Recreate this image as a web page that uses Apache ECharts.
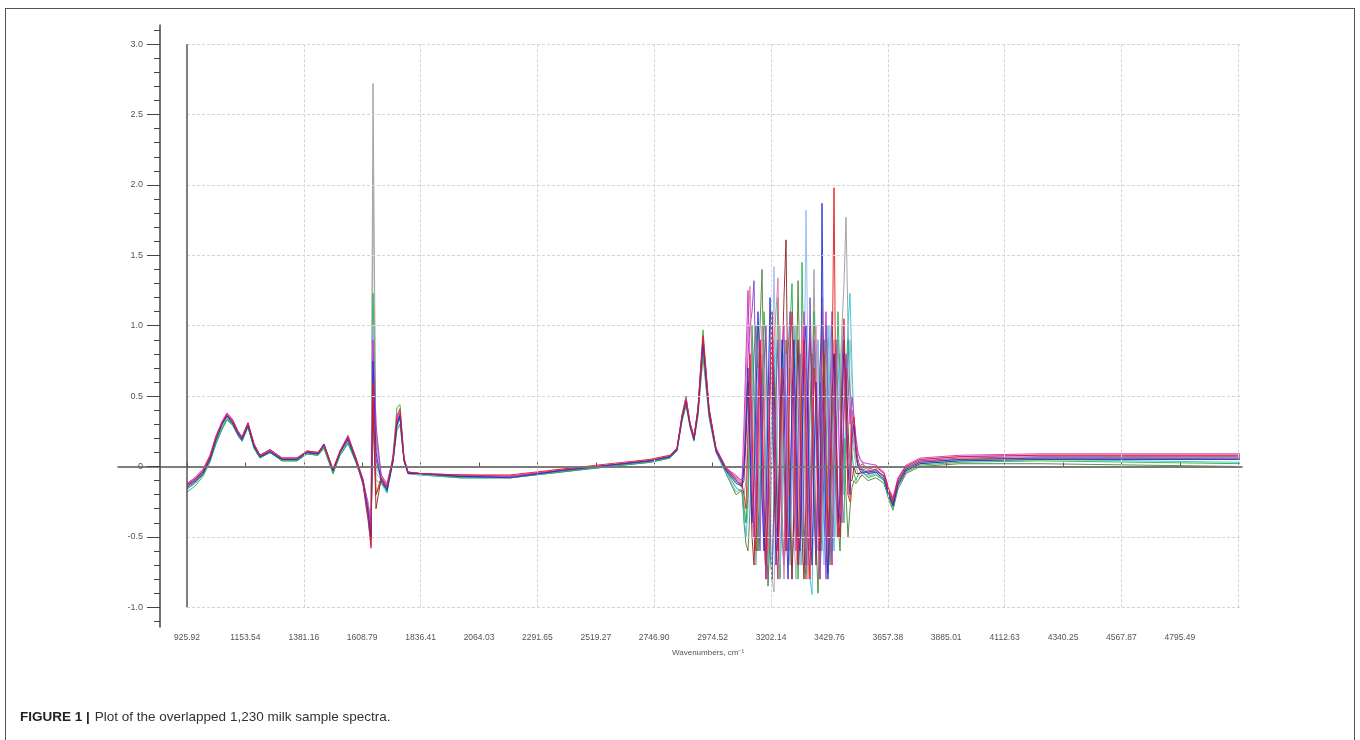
<!DOCTYPE html>
<html><head><meta charset="utf-8">
<script src="https://cdn.jsdelivr.net/npm/echarts@6/dist/echarts.min.js"></script>
<style>
html,body{margin:0;padding:0;background:#fff;}
#frame{position:absolute;left:5px;top:8px;width:1350px;height:740px;border-top:1px solid #555;border-left:1px solid #555;border-right:1px solid #555;box-sizing:border-box;}
#chart{position:absolute;left:0;top:0;width:1360px;height:740px;}
</style></head>
<body>
<div id="frame"></div>
<div id="chart"></div>
<script>
// x positions (wavenumbers, cm-1) at which the spectra were read
const wavenumbers = [
 925.9,957.1,988.3,1015.6,1039.0,1062.3,1081.8,1105.2,1124.7,1140.3,1163.7,1187.1,1210.4,1249.4,1296.2,1354.7,1393.6,1436.5,1459.9,1495.0,1522.3,1553.4,1584.6,1611.9,1631.4,1643.1,1650.9,1662.6,1682.1,1705.4,1728.8,1744.4,1756.1,1771.7,1787.3,1834.1,
 1990.0,2184.8,2379.7,2574.6,2730.5,2808.4,
 2835.7,2855.2,2870.8,2886.4,2902.0,2917.6,2937.1,2960.4,2987.7,3026.7,3065.7,
 3089.1,3096.9,3104.7,3112.5,3120.3,3128.1,3135.9,3143.7,3151.5,3159.3,3167.1,
 3174.8,3182.6,3190.4,3198.2,3206.0,3213.8,3221.6,3229.4,3237.2,3245.0,
 3252.8,3260.6,3268.4,3276.2,3284.0,3291.8,3299.6,3307.4,3315.2,3323.0,
 3330.8,3338.5,3346.3,3354.1,3361.9,3369.7,3377.5,3385.3,3393.1,3400.9,
 3408.7,3416.5,3424.3,3432.1,3439.9,3447.7,3455.5,3463.3,3471.1,3478.9,
 3486.6,3494.4,3502.2,3510.0,3517.8,3525.6,3533.4,3541.2,3549.0,3556.8,
 3580.2,3611.3,3642.5,3662.0,3677.6,3697.1,3728.3,3782.8,3938.7,4250.6,4640.3,5030.1
];
// absorbance values of individual samples
const sample10 = [-0.14,-0.10,-0.04,0.06,0.20,0.30,0.36,0.31,0.24,0.20,0.30,0.15,0.07,0.11,0.05,0.05,0.10,0.09,0.15,-0.03,0.10,0.20,0.05,-0.10,-0.30,-0.44,2.72,0.0,-0.08,-0.15,0.05,0.34,0.39,0.05,-0.04,-0.05,
 -0.07,-0.07,-0.03,0.01,0.04,0.07,
 0.12,0.34,0.47,0.30,0.20,0.39,0.88,0.39,0.12,-0.02,-0.10,
 -0.14,-0.2,-0.1,0.3,0.6,0.2,-0.4,-0.7,-0.2,0.4,0.8,
 0.3,-0.5,-0.8,-0.3,0.5,0.8,0.2,-0.6,-0.3,0.4,
 0.9,0.4,-0.3,-0.7,-0.1,0.6,1.0,0.3,-0.5,-0.7,
 0.0,0.7,0.3,-0.4,0.4,1.4,0.5,-0.2,-0.7,-0.3,
 0.5,0.9,0.3,-0.5,-0.7,0.0,0.6,0.9,0.4,1.0,
 1.3,1.77,1.0,0.6,0.3,0.15,0.05,0.0,-0.01,-0.01,
 -0.04,-0.02,-0.07,-0.18,-0.25,-0.11,-0.01,0.04,0.05,0.06,0.06,0.05];
const sample11 = [-0.14,-0.10,-0.04,0.06,0.19,0.29,0.35,0.30,0.23,0.19,0.29,0.14,0.07,0.11,0.05,0.05,0.10,0.09,0.14,-0.03,0.10,0.19,0.05,-0.10,-0.30,-0.45,2.13,-0.05,-0.09,-0.15,0.05,0.31,0.36,0.05,-0.04,-0.05,
 -0.07,-0.07,-0.03,0.01,0.04,0.07,
 0.12,0.35,0.47,0.30,0.20,0.40,0.89,0.40,0.12,-0.02,-0.11,
 -0.13,-0.25,-0.4,-0.1,0.5,0.9,0.5,-0.2,-0.6,-0.2,0.4,
 0.9,0.4,-0.3,-0.6,-0.8,-0.89,-0.3,0.5,1.0,0.4,
 -0.2,-0.6,0.0,0.7,0.3,-0.5,-0.8,-0.2,0.5,0.9,
 0.4,-0.76,-0.3,0.4,0.8,0.2,-0.5,-0.6,0.1,0.9,
 0.6,-0.2,-0.6,0.0,0.7,0.9,0.3,-0.4,-0.2,0.5,
 0.9,0.5,0.1,0.0,0.2,0.1,0.0,-0.05,-0.08,-0.05,
 -0.06,-0.04,-0.09,-0.20,-0.27,-0.12,-0.02,0.03,0.05,0.06,0.05,0.05];
const sample08 = [-0.16,-0.12,-0.06,0.04,0.17,0.27,0.34,0.29,0.22,0.18,0.28,0.13,0.06,0.10,0.04,0.04,0.09,0.08,0.13,-0.05,0.08,0.17,0.03,-0.12,-0.36,-0.50,0.35,-0.2,-0.11,-0.17,0.03,0.26,0.30,0.04,-0.05,-0.06,
 -0.08,-0.08,-0.04,0.00,0.03,0.06,
 0.11,0.32,0.43,0.28,0.18,0.36,0.78,0.35,0.10,-0.05,-0.20,
 -0.17,-0.4,-0.55,-0.6,-0.3,0.3,0.8,1.0,0.6,1.0,1.4,
 0.5,-0.3,-0.85,-0.5,0.1,0.7,0.3,-0.4,-0.79,-0.3,
 0.4,0.9,0.5,-0.2,-0.7,-0.4,0.3,1.32,0.6,-0.1,
 -0.6,-0.8,-0.2,0.4,0.8,0.2,-0.5,-0.9,-0.3,0.5,
 0.9,0.4,-0.3,-0.7,-0.2,0.6,0.3,-0.4,-0.6,-0.2,
 0.2,-0.2,-0.5,-0.3,-0.15,-0.1,-0.12,-0.1,-0.08,-0.06,
 -0.10,-0.08,-0.12,-0.24,-0.31,-0.16,-0.05,0.00,0.02,0.02,0.01,0.00];
const sample05 = [-0.16,-0.12,-0.05,0.05,0.18,0.28,0.34,0.30,0.23,0.19,0.28,0.14,0.07,0.10,0.05,0.04,0.09,0.08,0.14,-0.04,0.09,0.18,0.04,-0.11,-0.30,-0.48,0.55,-0.1,-0.12,-0.19,0.03,0.28,0.34,0.04,-0.05,-0.06,
 -0.08,-0.08,-0.04,0.00,0.03,0.06,
 0.11,0.33,0.45,0.29,0.19,0.38,0.85,0.37,0.11,-0.04,-0.18,
 -0.16,-0.35,-0.5,-0.3,0.3,0.8,0.4,-0.3,-0.6,0.0,0.7,
 0.4,-0.3,-0.7,-0.2,0.6,0.9,0.1,-0.5,-0.8,-0.1,
 0.8,0.5,-0.2,-0.6,0.2,1.0,0.6,-0.4,-0.7,0.1,
 0.7,0.2,-0.5,-0.8,-0.91,-0.2,0.6,0.9,0.2,-0.6,
 -0.3,0.4,1.0,0.5,-0.3,-0.6,0.0,0.6,0.8,0.2,
 -0.2,0.6,1.0,1.23,0.7,0.3,0.1,0.02,-0.03,-0.04,
 -0.07,-0.05,-0.10,-0.21,-0.28,-0.13,-0.03,0.02,0.04,0.05,0.04,0.03];
const sample03 = [-0.18,-0.14,-0.07,0.03,0.16,0.26,0.33,0.29,0.22,0.18,0.28,0.13,0.06,0.10,0.04,0.04,0.09,0.08,0.13,-0.05,0.08,0.16,0.03,-0.12,-0.25,-0.40,1.23,0.25,-0.05,-0.18,0.08,0.42,0.44,0.06,-0.04,-0.05,
 -0.08,-0.08,-0.04,0.00,0.03,0.06,
 0.11,0.37,0.50,0.30,0.19,0.41,0.97,0.41,0.12,-0.03,-0.15,
 -0.18,-0.3,-0.4,-0.2,0.4,1.0,0.6,-0.1,-0.6,-0.3,0.5,
 1.1,0.8,0.1,-0.6,-0.8,-0.2,0.6,1.2,0.4,-0.3,
 -0.7,-0.5,0.3,1.0,1.3,0.5,-0.2,-0.8,-0.4,1.45,
 0.6,-0.1,-0.7,-0.3,0.5,1.1,0.6,-0.2,-0.8,-0.4,
 0.4,1.0,0.7,-0.1,-0.6,-0.3,0.5,1.1,0.6,-0.2,
 -0.4,0.3,0.9,0.5,0.1,-0.05,-0.1,-0.06,-0.04,-0.03,
 -0.08,-0.06,-0.10,-0.22,-0.29,-0.14,-0.04,0.01,0.03,0.04,0.03,0.02];
const sample09 = [-0.13,-0.09,-0.03,0.07,0.20,0.30,0.36,0.31,0.24,0.20,0.30,0.15,0.07,0.11,0.05,0.05,0.10,0.09,0.15,-0.03,0.10,0.20,0.05,-0.10,-0.26,-0.40,1.0,0.15,-0.07,-0.14,0.05,0.33,0.38,0.05,-0.04,-0.05,
 -0.07,-0.07,-0.03,0.01,0.04,0.07,
 0.12,0.35,0.48,0.30,0.20,0.40,0.89,0.40,0.12,-0.02,-0.11,
 -0.12,0.0,0.2,0.5,0.0,-0.4,-0.5,0.1,0.7,0.4,-0.2,
 -0.6,-0.1,0.6,1.0,0.5,1.42,0.6,-0.2,-0.7,-0.3,
 0.3,0.8,0.4,-0.4,-0.8,-0.1,0.6,0.9,0.2,-0.5,
 0.4,1.82,0.7,-0.2,-0.6,-0.3,0.4,0.9,0.5,-0.3,
 -0.7,-0.2,0.5,1.0,0.6,-0.1,-0.5,0.1,0.7,1.0,
 0.6,0.2,0.5,0.9,0.6,0.3,0.2,0.1,0.06,0.04,
 -0.05,-0.03,-0.08,-0.19,-0.26,-0.12,-0.02,0.03,0.05,0.06,0.06,0.06];
const sample06 = [-0.13,-0.10,-0.04,0.06,0.20,0.30,0.36,0.31,0.24,0.20,0.30,0.15,0.07,0.11,0.05,0.05,0.10,0.09,0.15,-0.03,0.10,0.21,0.05,-0.10,-0.34,-0.52,0.45,-0.3,-0.09,-0.16,0.04,0.30,0.35,0.05,-0.05,-0.05,
 -0.07,-0.07,-0.03,0.01,0.04,0.07,
 0.12,0.34,0.47,0.30,0.20,0.39,0.87,0.39,0.12,-0.02,-0.10,
 -0.13,-0.1,0.2,0.6,0.1,-0.5,-0.7,-0.2,0.4,0.8,0.3,
 -0.4,-0.8,-0.3,0.5,1.1,0.6,0.0,-0.6,-0.2,0.7,
 1.2,1.61,0.4,-0.4,-0.8,-0.3,0.4,0.9,0.3,-0.5,
 -0.8,-0.2,0.6,1.0,0.4,-0.3,-0.7,0.0,0.7,1.1,
 0.5,-0.2,-0.76,-0.4,0.3,0.8,0.3,-0.3,-0.5,0.0,
 0.4,0.7,0.3,-0.1,-0.1,0.0,-0.05,-0.05,-0.05,-0.04,
 -0.04,-0.03,-0.07,-0.19,-0.26,-0.11,-0.02,0.03,0.05,0.06,0.06,0.06];
const sample07 = [-0.14,-0.10,-0.04,0.06,0.20,0.31,0.37,0.32,0.24,0.20,0.30,0.15,0.07,0.11,0.05,0.05,0.10,0.09,0.15,-0.03,0.10,0.20,0.05,-0.13,-0.38,-0.56,0.65,0.05,-0.08,-0.15,0.05,0.32,0.37,0.05,-0.04,-0.05,
 -0.07,-0.07,-0.03,0.01,0.04,0.07,
 0.12,0.35,0.49,0.30,0.20,0.41,0.92,0.41,0.12,-0.02,-0.09,
 -0.15,0.0,0.4,0.8,1.0,1.1,1.32,0.5,-0.3,-0.6,0.1,
 0.7,1.0,0.3,-0.4,-0.8,-0.3,0.5,0.9,0.2,-0.5,
 -0.7,0.0,0.8,1.1,0.4,-0.3,-0.6,0.2,0.8,0.4,
 -0.4,-0.7,0.1,1.2,0.6,-0.2,-0.6,0.0,0.6,0.3,
 -0.3,-0.8,-0.2,0.5,1.1,0.5,-0.2,-0.5,0.1,0.6,
 0.8,0.4,-0.1,0.1,0.4,0.3,0.1,0.0,-0.03,-0.05,
 -0.03,-0.02,-0.07,-0.20,-0.27,-0.11,-0.01,0.04,0.06,0.07,0.07,0.07];
const sample12 = [-0.12,-0.08,-0.02,0.08,0.21,0.31,0.38,0.33,0.25,0.21,0.31,0.16,0.08,0.12,0.06,0.06,0.11,0.10,0.16,-0.02,0.11,0.22,0.06,-0.09,-0.27,-0.40,0.8,0.2,-0.06,-0.13,0.06,0.35,0.40,0.05,-0.04,-0.05,
 -0.06,-0.07,-0.02,0.01,0.05,0.08,
 0.13,0.36,0.49,0.31,0.21,0.41,0.91,0.41,0.13,-0.01,-0.06,
 -0.11,0.1,0.6,1.0,1.28,0.6,0.0,-0.5,-0.3,0.4,1.0,
 0.6,-0.1,-0.6,-0.2,0.5,0.9,1.1,1.34,0.4,-0.4,
 -0.8,-0.3,0.4,0.9,0.6,-0.1,-0.6,-0.2,0.5,1.0,
 0.5,-0.3,-0.8,-0.4,0.3,0.8,1.0,0.3,-0.4,1.2,
 0.6,-0.3,-0.76,-0.2,0.4,0.7,0.1,-0.5,-0.3,0.4,
 0.7,0.3,-0.2,0.1,0.4,0.2,0.1,0.0,0.0,-0.03,
 0.00,-0.01,-0.05,-0.17,-0.23,-0.09,0.00,0.05,0.07,0.08,0.08,0.08];
const sample04 = [-0.12,-0.08,-0.02,0.08,0.22,0.32,0.38,0.33,0.25,0.21,0.31,0.16,0.08,0.12,0.06,0.06,0.11,0.10,0.16,-0.02,0.11,0.22,0.06,-0.09,-0.28,-0.42,0.9,0.3,-0.06,-0.12,0.06,0.33,0.38,0.05,-0.04,-0.05,
 -0.06,-0.07,-0.03,0.01,0.04,0.07,
 0.13,0.35,0.48,0.31,0.21,0.40,0.90,0.40,0.13,-0.01,-0.07,
 -0.1,0.3,0.8,1.25,0.6,-0.1,-0.5,-0.2,0.5,0.9,0.2,
 -0.5,-0.8,-0.1,0.7,1.0,0.3,-0.4,-0.6,0.2,0.8,
 1.0,0.2,-0.6,-0.3,0.4,0.7,0.0,-0.7,-0.5,0.3,
 1.1,0.6,-0.2,-0.6,0.1,0.9,0.4,-0.5,-0.8,0.0,
 0.6,1.1,0.4,-0.3,-0.7,0.2,0.9,0.5,-0.1,-0.4,
 0.5,0.8,0.6,0.3,0.5,0.35,0.2,0.1,0.05,0.03,
 0.02,0.01,-0.04,-0.16,-0.22,-0.08,0.01,0.06,0.08,0.09,0.09,0.09];
const sample02 = [-0.15,-0.11,-0.05,0.05,0.19,0.30,0.36,0.30,0.23,0.19,0.29,0.14,0.07,0.10,0.05,0.05,0.10,0.09,0.16,-0.03,0.10,0.19,0.04,-0.10,-0.32,-0.50,0.75,0.1,-0.10,-0.17,0.04,0.30,0.36,0.04,-0.05,-0.05,
 -0.07,-0.08,-0.03,0.01,0.04,0.07,
 0.12,0.34,0.46,0.29,0.19,0.39,0.88,0.38,0.11,-0.03,-0.12,
 -0.14,0.0,0.3,0.7,0.2,-0.4,-0.1,0.5,1.1,0.6,-0.2,
 -0.6,-0.3,0.4,1.2,0.7,-0.1,-0.7,-0.4,0.3,0.9,
 0.5,-0.3,-0.8,-0.2,0.5,0.9,0.2,-0.5,-0.6,0.1,
 0.8,1.0,0.3,-0.4,-0.7,0.0,0.6,0.1,-0.6,1.87,
 0.3,-0.5,-0.8,-0.1,0.5,0.8,0.2,-0.4,-0.2,0.4,
 0.9,0.5,0.0,-0.2,0.2,0.3,0.1,0.0,-0.02,-0.02,
 -0.05,-0.04,-0.09,-0.21,-0.28,-0.13,-0.03,0.02,0.04,0.05,0.05,0.05];
const sample01 = [-0.13,-0.09,-0.03,0.07,0.21,0.31,0.37,0.32,0.25,0.21,0.31,0.16,0.08,0.12,0.06,0.06,0.11,0.10,0.15,-0.02,0.11,0.21,0.06,-0.12,-0.35,-0.58,0.6,-0.2,-0.08,-0.14,0.06,0.36,0.41,0.06,-0.04,-0.05,
 -0.06,-0.06,-0.02,0.02,0.05,0.08,
 0.13,0.36,0.47,0.31,0.21,0.42,0.93,0.42,0.13,-0.01,-0.08,
 -0.12,-0.2,-0.3,0.2,0.8,0.3,-0.4,-0.6,0.1,0.9,0.5,
 -0.2,-0.7,-0.3,0.6,1.0,0.4,-0.5,-0.8,0.2,0.7,
 0.1,-0.6,-0.2,0.8,1.1,0.3,-0.4,-0.7,0.0,0.6,
 0.9,0.2,-0.5,-0.8,-0.1,0.7,0.4,-0.3,-0.6,0.3,
 0.8,0.1,-0.5,-0.2,0.6,1.98,0.2,-0.5,-0.3,0.7,
 1.05,0.4,-0.2,-0.25,0.3,0.35,0.15,0.05,0.0,0.02,
 -0.02,0.00,-0.05,-0.17,-0.24,-0.09,0.00,0.05,0.07,0.08,0.08,0.08];

const spectra = [sample10, sample11, sample08, sample05, sample03, sample09, sample06, sample07, sample12, sample04, sample02, sample01];
const lineColors = ['#9a9a9a','#a8a8a8','#4f7f35','#33c4d6','#22b04a','#8fb8f0','#8b2020','#8040c8','#f06ca0','#d12ad1','#1f2fd6','#e41a1c'];

// axis tick labels
const xTickLabels = ['925.92','1153.54','1381.16','1608.79','1836.41','2064.03','2291.65','2519.27','2746.90','2974.52','3202.14','3429.76','3657.38','3885.01','4112.63','4340.25','4567.87','4795.49'];
const yTickLabels = ['-1.0','-0.5','0','0.5','1.0','1.5','2.0','2.5','3.0'];
const xGridValues = ['925.92','1381.16','1836.41','2291.65','2746.90','3202.14','3657.38','4112.63','4567.87','5023.11'];
const yMinorTicks = [-1.1,-1.0,-0.9,-0.8,-0.7,-0.6,-0.5,-0.4,-0.3,-0.2,-0.1,0,0.1,0.2,0.3,0.4,0.5,0.6,0.7,0.8,0.9,1.0,1.1,1.2,1.3,1.4,1.5,1.6,1.7,1.8,1.9,2.0,2.1,2.2,2.3,2.4,2.5,2.6,2.7,2.8,2.9,3.0,3.1];

const X_MIN = 657.0, X_MAX = 5037.8, Y_MIN = -1.14, Y_MAX = 3.136;
const xTickVals = xTickLabels.map(Number);
const yTickVals = yTickLabels.map(Number);
const xGridVals = xGridValues.map(Number);
const plotLeft = xGridVals[0], plotRight = 5030.1;

const gridLines = [];
yTickVals.forEach(v => { if (v !== 0) gridLines.push([{coord:[plotLeft, v]},{coord:[plotRight, v]}]); });
xGridVals.slice(1).forEach(v => gridLines.push([{coord:[v, -1]},{coord:[v, 3]}]));

const series = [{
  type:'line', data:[], silent:true, z:1,
  markLine:{ silent:true, symbol:['none','none'], label:{show:false}, animation:false,
    lineStyle:{color:'#d4d4d4', width:1, type:[3,2]}, data:gridLines }
},{
  type:'line', data:[], silent:true, z:2,
  markLine:{ silent:true, symbol:['none','none'], label:{show:false}, animation:false,
    lineStyle:{color:'#7a7a7a', width:1.5, type:'solid'},
    data:[[{coord:[plotLeft,0]},{coord:[plotRight,0]}]] }
},{
  type:'line', data:[], silent:true, z:2,
  markLine:{ silent:true, symbol:['none','none'], label:{show:false}, animation:false,
    lineStyle:{color:'#555', width:1.5, type:'solid'},
    data:[[{coord:[plotLeft,-1]},{coord:[plotLeft,3]}]] }
}];
spectra.forEach((vals, i) => {
  series.push({
    type:'line', showSymbol:false, symbol:'none', silent:true, z:3,
    data: wavenumbers.map((w, j) => [w, vals[j]]),
    lineStyle:{width:1, color:lineColors[i], opacity:0.9}
  });
});

const chart = echarts.init(document.getElementById('chart'), null, {renderer:'canvas'});
chart.setOption({
  animation:false,
  backgroundColor:'transparent',
  title:{
    left:15, top:703,
    text:'{b|FIGURE 1 |} {n|Plot of the overlapped 1,230 milk sample spectra.}',
    textStyle:{ fontWeight:'normal', rich:{
      b:{fontFamily:'"Liberation Sans",Arial,sans-serif', fontWeight:'bold', fontSize:13.5, color:'#222'},
      n:{fontFamily:'"Liberation Sans",Arial,sans-serif', fontWeight:'normal', fontSize:13.5, color:'#333'}
    }}
  },
  graphic:[{type:'text', left:672, top:649, style:{text:'Wavenumbers, cm\u207B\u00B9', fontSize:8, fill:'#555', fontFamily:'"Liberation Sans",Arial,sans-serif'}}],
  grid:{left:118, right:118, top:25, bottom:113},
  xAxis:{
    type:'value', min:X_MIN, max:X_MAX,
    axisLine:{show:true, lineStyle:{color:'#555', width:1.5}},
    axisTick:{show:true, inside:true, length:4, customValues:xTickVals.concat([5023.11]), lineStyle:{color:'#555'}},
    axisLabel:{customValues:xTickVals, formatter:v=>xTickLabels[xTickVals.indexOf(v)] || '', fontSize:8.5, color:'#555', margin:6, fontFamily:'"Liberation Sans",Arial,sans-serif'},
    splitLine:{show:false}
  },
  yAxis:[{
    type:'value', min:Y_MIN, max:Y_MAX, offset:-42,
    axisLine:{show:true, lineStyle:{color:'#444', width:1.5}},
    axisTick:{show:true, length:13, customValues:yTickVals, lineStyle:{color:'#444'}},
    axisLabel:{customValues:yTickVals, formatter:v=>yTickLabels[yTickVals.indexOf(v)] || '', fontSize:9, color:'#555', margin:17, fontFamily:'"Liberation Sans",Arial,sans-serif'},
    splitLine:{show:false}
  },{
    type:'value', min:Y_MIN, max:Y_MAX, offset:-42, position:'left',
    axisLine:{show:false},
    axisTick:{show:true, length:6, customValues:yMinorTicks, lineStyle:{color:'#444'}},
    axisLabel:{show:false},
    splitLine:{show:false}
  }],
  series:series
});
</script>
</body></html>
